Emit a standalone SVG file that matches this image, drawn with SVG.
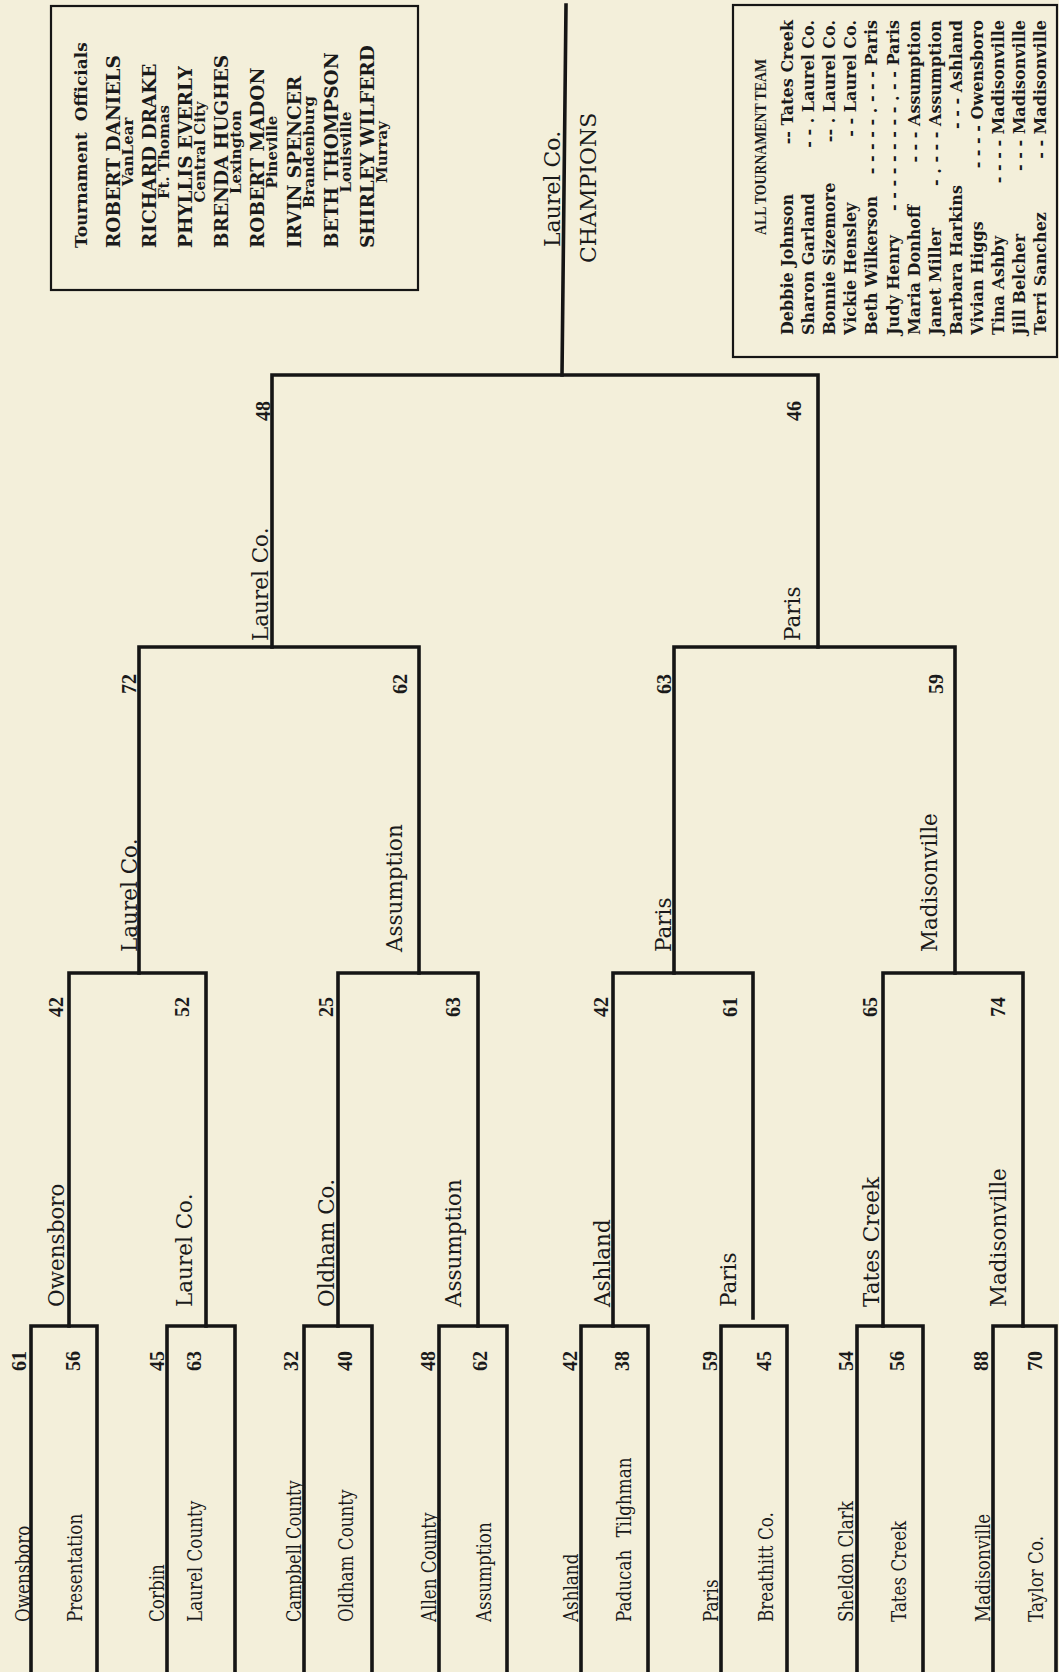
<svg xmlns="http://www.w3.org/2000/svg" width="1059" height="1672" viewBox="0 0 1059 1672">
<style>
.bg{fill:#F3EFDA}
.ln{fill:none;stroke:#151515;stroke-width:3.6;stroke-linejoin:miter;stroke-linecap:square}
.bx{fill:none;stroke:#151515;stroke-width:2.2}
text{fill:#1a1a1a}
.n1{font-family:"DejaVu Serif","Liberation Serif",serif;font-size:19.5px}
.nm{font-family:"DejaVu Serif","Liberation Serif",serif;font-size:21.5px}
.sc{font-family:"Liberation Serif",serif;font-size:20px;font-weight:bold}
.ch{font-family:"DejaVu Serif","Liberation Serif",serif;font-size:22px}
.ot{font-family:"DejaVu Serif",serif;font-weight:bold;font-size:17px;word-spacing:5px}
.on{font-family:"DejaVu Serif",serif;font-weight:bold;font-size:18.5px}
.oc{font-family:"DejaVu Serif",serif;font-weight:bold;font-size:15px;text-anchor:middle}
.rt{font-family:"Liberation Serif",serif;font-weight:bold;font-size:17px;text-anchor:middle}
.rn{font-family:"DejaVu Serif",serif;font-weight:bold;font-size:16px}
.rm{font-family:"DejaVu Serif",serif;font-weight:bold;font-size:16px;text-anchor:end}
</style>
<rect class="bg" x="0" y="0" width="1059" height="1672"/>

<g id="connectors">
<path class="ln" d="M31,1672 V1326 H97 V1672"/>
<path class="ln" d="M167,1672 V1326 H235 V1672"/>
<path class="ln" d="M304,1672 V1326 H372 V1672"/>
<path class="ln" d="M439,1672 V1326 H507 V1672"/>
<path class="ln" d="M581,1672 V1326 H648 V1672"/>
<path class="ln" d="M721,1672 V1326 H787 V1672"/>
<path class="ln" d="M857,1672 V1326 H923 V1672"/>
<path class="ln" d="M993,1672 V1326 H1056 V1672"/>
<path class="ln" d="M69,1326 V973 H206 V1326"/>
<path class="ln" d="M338,1326 V973 H478 V1326"/>
<path class="ln" d="M613,1326 V973 H753 V1318"/>
<path class="ln" d="M883,1326 V973 H1023 V1326"/>
<path class="ln" d="M139,973 V647 H419 V973"/>
<path class="ln" d="M674,973 V647 H955 V973"/>
<path class="ln" d="M272,647 V375 H818 V647"/>
<path class="ln" d="M562,375 L566,5"/>
</g>

<g id="r1-game1">
<text class="n1" transform="translate(30,1622) rotate(-90) scale(0.86,1)">Owensboro</text>
<text class="sc" transform="translate(26,1371) rotate(-90)">61</text>
<text class="n1" transform="translate(82,1622) rotate(-90) scale(0.86,1)">Presentation</text>
<text class="sc" transform="translate(80,1371) rotate(-90)">56</text>
</g>
<g id="r1-game2">
<text class="n1" transform="translate(164,1622) rotate(-90) scale(0.86,1)">Corbin</text>
<text class="sc" transform="translate(164,1371) rotate(-90)">45</text>
<text class="n1" transform="translate(201.5,1622) rotate(-90) scale(0.86,1)">Laurel County</text>
<text class="sc" transform="translate(201,1371) rotate(-90)">63</text>
</g>
<g id="r1-game3">
<text class="n1" transform="translate(301,1622) rotate(-90) scale(0.83,1)">Campbell County</text>
<text class="sc" transform="translate(298,1371) rotate(-90)">32</text>
<text class="n1" transform="translate(353,1622) rotate(-90) scale(0.86,1)">Oldham County</text>
<text class="sc" transform="translate(352,1371) rotate(-90)">40</text>
</g>
<g id="r1-game4">
<text class="n1" transform="translate(436,1622) rotate(-90) scale(0.86,1)">Allen County</text>
<text class="sc" transform="translate(435,1371) rotate(-90)">48</text>
<text class="n1" transform="translate(491,1622) rotate(-90) scale(0.86,1)">Assumption</text>
<text class="sc" transform="translate(487,1371) rotate(-90)">62</text>
</g>
<g id="r1-game5">
<text class="n1" transform="translate(578,1622) rotate(-90) scale(0.86,1)">Ashland</text>
<text class="sc" transform="translate(577,1371) rotate(-90)">42</text>
<text class="n1" transform="translate(631,1622) rotate(-90) scale(0.86,1)" word-spacing="8">Paducah Tilghman</text>
<text class="sc" transform="translate(629,1371) rotate(-90)">38</text>
</g>
<g id="r1-game6">
<text class="n1" transform="translate(718,1622) rotate(-90) scale(0.86,1)">Paris</text>
<text class="sc" transform="translate(717,1371) rotate(-90)">59</text>
<text class="n1" transform="translate(773,1622) rotate(-90) scale(0.86,1)">Breathitt Co.</text>
<text class="sc" transform="translate(771,1371) rotate(-90)">45</text>
</g>
<g id="r1-game7">
<text class="n1" transform="translate(853,1622) rotate(-90) scale(0.86,1)">Sheldon Clark</text>
<text class="sc" transform="translate(853,1371) rotate(-90)">54</text>
<text class="n1" transform="translate(906,1622) rotate(-90) scale(0.86,1)">Tates Creek</text>
<text class="sc" transform="translate(904,1371) rotate(-90)">56</text>
</g>
<g id="r1-game8">
<text class="n1" transform="translate(990,1622) rotate(-90) scale(0.86,1)">Madisonville</text>
<text class="sc" transform="translate(988,1371) rotate(-90)">88</text>
<text class="n1" transform="translate(1043,1622) rotate(-90) scale(0.86,1)">Taylor Co.</text>
<text class="sc" transform="translate(1042,1371) rotate(-90)">70</text>
</g>

<g id="r2-gameA">
<text class="nm" transform="translate(64,1307) rotate(-90)">Owensboro</text>
<text class="sc" transform="translate(63,1017) rotate(-90)">42</text>
<text class="nm" transform="translate(192,1307) rotate(-90)">Laurel Co.</text>
<text class="sc" transform="translate(189,1017) rotate(-90)">52</text>
</g>
<g id="r2-gameB">
<text class="nm" transform="translate(334,1307) rotate(-90)">Oldham Co.</text>
<text class="sc" transform="translate(333,1017) rotate(-90)">25</text>
<text class="nm" transform="translate(461,1307) rotate(-90)">Assumption</text>
<text class="sc" transform="translate(460,1017) rotate(-90)">63</text>
</g>
<g id="r2-gameC">
<text class="nm" transform="translate(610,1307) rotate(-90)">Ashland</text>
<text class="sc" transform="translate(608,1017) rotate(-90)">42</text>
<text class="nm" transform="translate(736,1307) rotate(-90)">Paris</text>
<text class="sc" transform="translate(737,1017) rotate(-90)">61</text>
</g>
<g id="r2-gameD">
<text class="nm" transform="translate(878.5,1307) rotate(-90)">Tates Creek</text>
<text class="sc" transform="translate(877,1017) rotate(-90)">65</text>
<text class="nm" transform="translate(1005.5,1307) rotate(-90)">Madisonville</text>
<text class="sc" transform="translate(1005,1017) rotate(-90)">74</text>
</g>

<g id="r3-gameE">
<text class="nm" transform="translate(136.5,952) rotate(-90)">Laurel Co.</text>
<text class="sc" transform="translate(136,694) rotate(-90)">72</text>
<text class="nm" transform="translate(402,952) rotate(-90)">Assumption</text>
<text class="sc" transform="translate(407,694) rotate(-90)">62</text>
</g>
<g id="r3-gameF">
<text class="nm" transform="translate(670.5,952) rotate(-90)">Paris</text>
<text class="sc" transform="translate(671,694) rotate(-90)">63</text>
<text class="nm" transform="translate(937,952) rotate(-90)">Madisonville</text>
<text class="sc" transform="translate(943,694) rotate(-90)">59</text>
</g>

<g id="final">
<text class="nm" transform="translate(268,641) rotate(-90)">Laurel Co.</text>
<text class="sc" transform="translate(270,421) rotate(-90)">48</text>
<text class="nm" transform="translate(800,641) rotate(-90)">Paris</text>
<text class="sc" transform="translate(801,421) rotate(-90)">46</text>
</g>

<g id="champion">
<text class="ch" transform="translate(560,247) rotate(-90)">Laurel Co.</text>
<text class="ch" transform="translate(596,263) rotate(-90)">CHAMPIONS</text>
</g>

<g id="officials">
<rect class="bx" x="51" y="6" width="367" height="284"/>
<text class="ot" transform="translate(87,248) rotate(-90)">Tournament Officials</text>
<text class="on" transform="translate(119.5,248) rotate(-90)">ROBERT DANIELS</text>
<text class="oc" transform="translate(132.5,152) rotate(-90)">VanLear</text>
<text class="on" transform="translate(155.5,248) rotate(-90)">RICHARD DRAKE</text>
<text class="oc" transform="translate(168.5,152) rotate(-90)">Ft. Thomas</text>
<text class="on" transform="translate(191.5,248) rotate(-90)">PHYLLIS EVERLY</text>
<text class="oc" transform="translate(204.5,152) rotate(-90)">Central City</text>
<text class="on" transform="translate(227.5,248) rotate(-90)">BRENDA HUGHES</text>
<text class="oc" transform="translate(240.5,152) rotate(-90)">Lexington</text>
<text class="on" transform="translate(263.5,248) rotate(-90)">ROBERT MADON</text>
<text class="oc" transform="translate(276.5,152) rotate(-90)">Pineville</text>
<text class="on" transform="translate(300.5,248) rotate(-90)">IRVIN SPENCER</text>
<text class="oc" transform="translate(313.5,152) rotate(-90)">Brandenburg</text>
<text class="on" transform="translate(337.5,248) rotate(-90)">BETH THOMPSON</text>
<text class="oc" transform="translate(350.5,152) rotate(-90)">Louisville</text>
<text class="on" transform="translate(373.5,248) rotate(-90)">SHIRLEY WILFERD</text>
<text class="oc" transform="translate(386.5,152) rotate(-90)">Murray</text>
</g>

<g id="all-tournament-team">
<rect class="bx" x="733" y="5" width="324" height="352"/>
<text class="rt" transform="translate(766,147) rotate(-90)" textLength="176" lengthAdjust="spacingAndGlyphs">ALL TOURNAMENT TEAM</text>
<text class="rn" transform="translate(793,335) rotate(-90)">Debbie Johnson</text>
<text class="rm" transform="translate(793,20) rotate(-90)">-- Tates Creek</text>
<text class="rn" transform="translate(814.1,335) rotate(-90)">Sharon Garland</text>
<text class="rm" transform="translate(814.1,20) rotate(-90)">- - . Laurel Co.</text>
<text class="rn" transform="translate(835.2,335) rotate(-90)">Bonnie Sizemore</text>
<text class="rm" transform="translate(835.2,20) rotate(-90)">-- . Laurel Co.</text>
<text class="rn" transform="translate(856.3,335) rotate(-90)">Vickie Hensley</text>
<text class="rm" transform="translate(856.3,20) rotate(-90)">- - Laurel Co.</text>
<text class="rn" transform="translate(877.4,335) rotate(-90)">Beth Wilkerson</text>
<text class="rm" transform="translate(877.4,20) rotate(-90)">- - - - - . - - - Paris</text>
<text class="rn" transform="translate(898.5,335) rotate(-90)">Judy Henry</text>
<text class="rm" transform="translate(898.5,20) rotate(-90)">- - - - - - - - - . - - Paris</text>
<text class="rn" transform="translate(919.6,335) rotate(-90)">Maria Donhoff</text>
<text class="rm" transform="translate(919.6,20) rotate(-90)">- - - Assumption</text>
<text class="rn" transform="translate(940.7,335) rotate(-90)">Janet Miller</text>
<text class="rm" transform="translate(940.7,20) rotate(-90)">- . - - - Assumption</text>
<text class="rn" transform="translate(961.8,335) rotate(-90)">Barbara Harkins</text>
<text class="rm" transform="translate(961.8,20) rotate(-90)">- - - Ashland</text>
<text class="rn" transform="translate(982.9,335) rotate(-90)">Vivian Higgs</text>
<text class="rm" transform="translate(982.9,20) rotate(-90)">- - - - Owensboro</text>
<text class="rn" transform="translate(1004,335) rotate(-90)">Tina Ashby</text>
<text class="rm" transform="translate(1004,20) rotate(-90)">- - - - Madisonville</text>
<text class="rn" transform="translate(1025.1,335) rotate(-90)">Jill Belcher</text>
<text class="rm" transform="translate(1025.1,20) rotate(-90)">- - - Madisonville</text>
<text class="rn" transform="translate(1046.2,335) rotate(-90)">Terri Sanchez</text>
<text class="rm" transform="translate(1046.2,20) rotate(-90)">- - Madisonville</text>
</g>
</svg>
